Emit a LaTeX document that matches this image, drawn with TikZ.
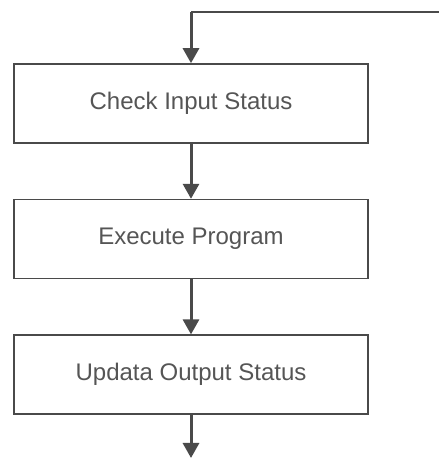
\documentclass[tikz,border=0pt]{standalone}
\usepackage{fontspec}
\setmainfont{Liberation Sans}
\usetikzlibrary{arrows.meta, positioning}

\definecolor{linegray}{HTML}{4A4A4A}
\definecolor{textgray}{HTML}{555555}

\tikzset{
	stagebox/.style={draw=linegray, line width=1.6pt, minimum width=354pt, minimum height=79pt,
		inner sep=0pt, text=textgray, font=\fontsize{24}{28}\selectfont},
	flowarrow/.style={draw=linegray, line width=3pt,
		arrows={-Triangle[length=15pt, width=16pt]}}
}

\begin{document}
\begin{tikzpicture}[x=1pt, y=1pt]

		\def\W{439} \def\H{458}
		\def\cx{191} % centre line of the boxes
		\def\gap{55pt} % space between boxes

		\useasboundingbox (0,0) rectangle (\W,\H);

		% Boxes
		\node[stagebox] (check) at (\cx, \H-103.5) {Check Input Status};
		\node[stagebox, below=\gap of check] (execute) {Execute Program};
		\node[stagebox, below=\gap of execute] (update) {Updata Output Status};

		% Loop-back line from the right edge
		\coordinate (loopright) at (\W, \H-12);
		\coordinate (looptop) at (\cx, \H-12);
		\coordinate (exit) at (\cx, 0);

		% Connectors
		\draw[draw=linegray, line width=2.4pt] (loopright) -- (looptop);
		\draw[flowarrow] (looptop) -- (check);
		\draw[flowarrow] (check) -- (execute);
		\draw[flowarrow] (execute) -- (update);
		\draw[flowarrow] (update) -- (exit);

	\end{tikzpicture}
\end{document}
